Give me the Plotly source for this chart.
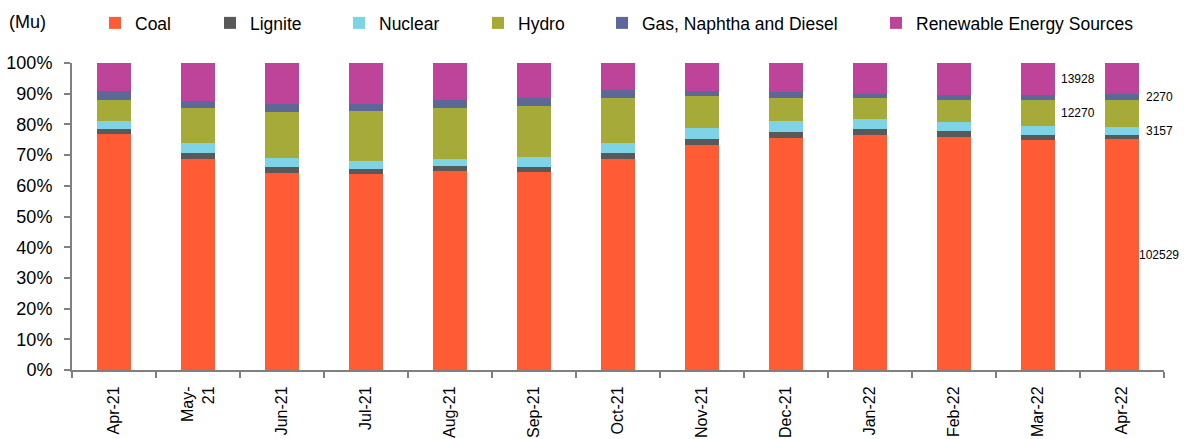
import plotly.graph_objects as go

months = ["Apr-21", "May-21", "Jun-21", "Jul-21", "Aug-21", "Sep-21", "Oct-21",
          "Nov-21", "Dec-21", "Jan-22", "Feb-22", "Mar-22", "Apr-22"]
month_labels = ["Apr-21", "May-<br>21", "Jun-21", "Jul-21", "Aug-21", "Sep-21", "Oct-21",
                "Nov-21", "Dec-21", "Jan-22", "Feb-22", "Mar-22", "Apr-22"]

# share of generation (%)
coal = [76.8, 68.8, 64.2, 63.8, 64.8, 64.5, 68.6, 73.3, 75.6, 76.6, 75.9, 75.0, 75.1]
lignite = [1.7, 2.0, 1.8, 1.8, 1.5, 1.7, 2.0, 1.8, 1.9, 2.0, 2.1, 1.7, 1.6]
nuclear = [2.6, 3.2, 3.2, 2.6, 2.4, 3.3, 3.4, 3.7, 3.7, 3.2, 2.9, 2.9, 2.4]
hydro = [7.0, 11.3, 14.9, 16.1, 16.7, 16.5, 14.5, 10.3, 7.4, 6.7, 7.1, 8.4, 9.0]
gas = [2.8, 2.4, 2.5, 2.3, 2.6, 2.5, 2.7, 1.8, 1.9, 1.5, 1.6, 1.5, 1.7]
renewable = [9.1, 12.3, 13.4, 13.4, 12.0, 11.5, 8.8, 9.1, 9.5, 10.0, 10.4, 10.5, 10.2]

series_names = ["Coal", "Lignite", "Nuclear", "Hydro", "Gas, Naphtha and Diesel",
                "Renewable Energy Sources"]
series_values = [coal, lignite, nuclear, hydro, gas, renewable]
colors = ["#FF5B35", "#595959", "#7FD3E6", "#A5AA39", "#5E6898", "#BD4499"]

# Apr-22 absolute values (Mu) shown as labels
apr22_labels = ["102529", None, "3157", "12270", "2270", "13928"]
apr22_label_side = ["right", None, "right", "left", "right", "left"]

legend_text_x = [137, 252, 381, 520, 644, 918]

W, H = 1184, 439
FONT = "Liberation Sans, Arial, sans-serif"

fig = go.Figure()
for i, (name, vals, col) in enumerate(zip(series_names, series_values, colors)):
    lg = "legend" if i == 0 else f"legend{i + 1}"
    fig.add_trace(go.Bar(x=months, y=vals, name=name, marker_color=col,
                         marker_line_width=0, legend=lg))

layout_legends = {}
for i, tx in enumerate(legend_text_x):
    key = "legend" if i == 0 else f"legend{i + 1}"
    layout_legends[key] = dict(
        x=(tx - 42) / W, xref="container", xanchor="left",
        y=1 - 23 / H, yref="container", yanchor="middle",
        orientation="h", bgcolor="rgba(0,0,0,0)", borderwidth=0,
        font=dict(family=FONT, size=17.5, color="#000000"),
    )

# annotations for Apr-22 values
last = len(months) - 1
totals = sum(v[last] for v in series_values)
cum = 0
annotations = []
for lab, side, vals in zip(apr22_labels, apr22_label_side, series_values):
    share = vals[last] / totals * 100
    mid = cum + share / 2
    cum += share
    if lab is None:
        continue
    annotations.append(dict(
        x=months[last], y=mid, xref="x", yref="y", text=lab, showarrow=False,
        xshift=37 if side == "right" else -44,
        font=dict(family=FONT, size=12, color="#000000"),
    ))

annotations.append(dict(
    x=(7 - 72) / 1092, y=(370 - 22) / 307, xref="paper", yref="paper",
    text="(Mu)", showarrow=False, xanchor="left", yanchor="middle",
    font=dict(family=FONT, size=18, color="#000000"),
))

fig.update_layout(
    width=W, height=H,
    margin=dict(l=72, r=20, t=63, b=69, pad=0, autoexpand=False),
    barmode="stack", barnorm="percent", bargap=0.6,
    plot_bgcolor="white", paper_bgcolor="white",
    font=dict(family=FONT, size=17, color="#000000"),
    showlegend=True,
    annotations=annotations,
    **layout_legends,
)
fig.update_xaxes(
    tickmode="array", tickvals=months, ticktext=month_labels,
    range=[-0.5, len(months) - 0.5],
    tickangle=-90, tickson="boundaries", ticks="outside", ticklen=6,
    tickwidth=2, tickcolor="#808080", showline=True, linecolor="#808080",
    linewidth=2, showgrid=False, automargin=False, ticklabelstandoff=8,
    tickfont=dict(family=FONT, size=16, color="#000000"),
)
fig.update_yaxes(
    range=[0, 100], dtick=10, ticksuffix="%", ticks="outside", ticklen=6,
    tickwidth=2, tickcolor="#808080", showline=True, linecolor="#808080",
    linewidth=2, showgrid=False, zeroline=False, ticklabelstandoff=8,
    automargin=False,
    tickfont=dict(family=FONT, size=18, color="#000000"),
)

fig.write_html("out.html")
